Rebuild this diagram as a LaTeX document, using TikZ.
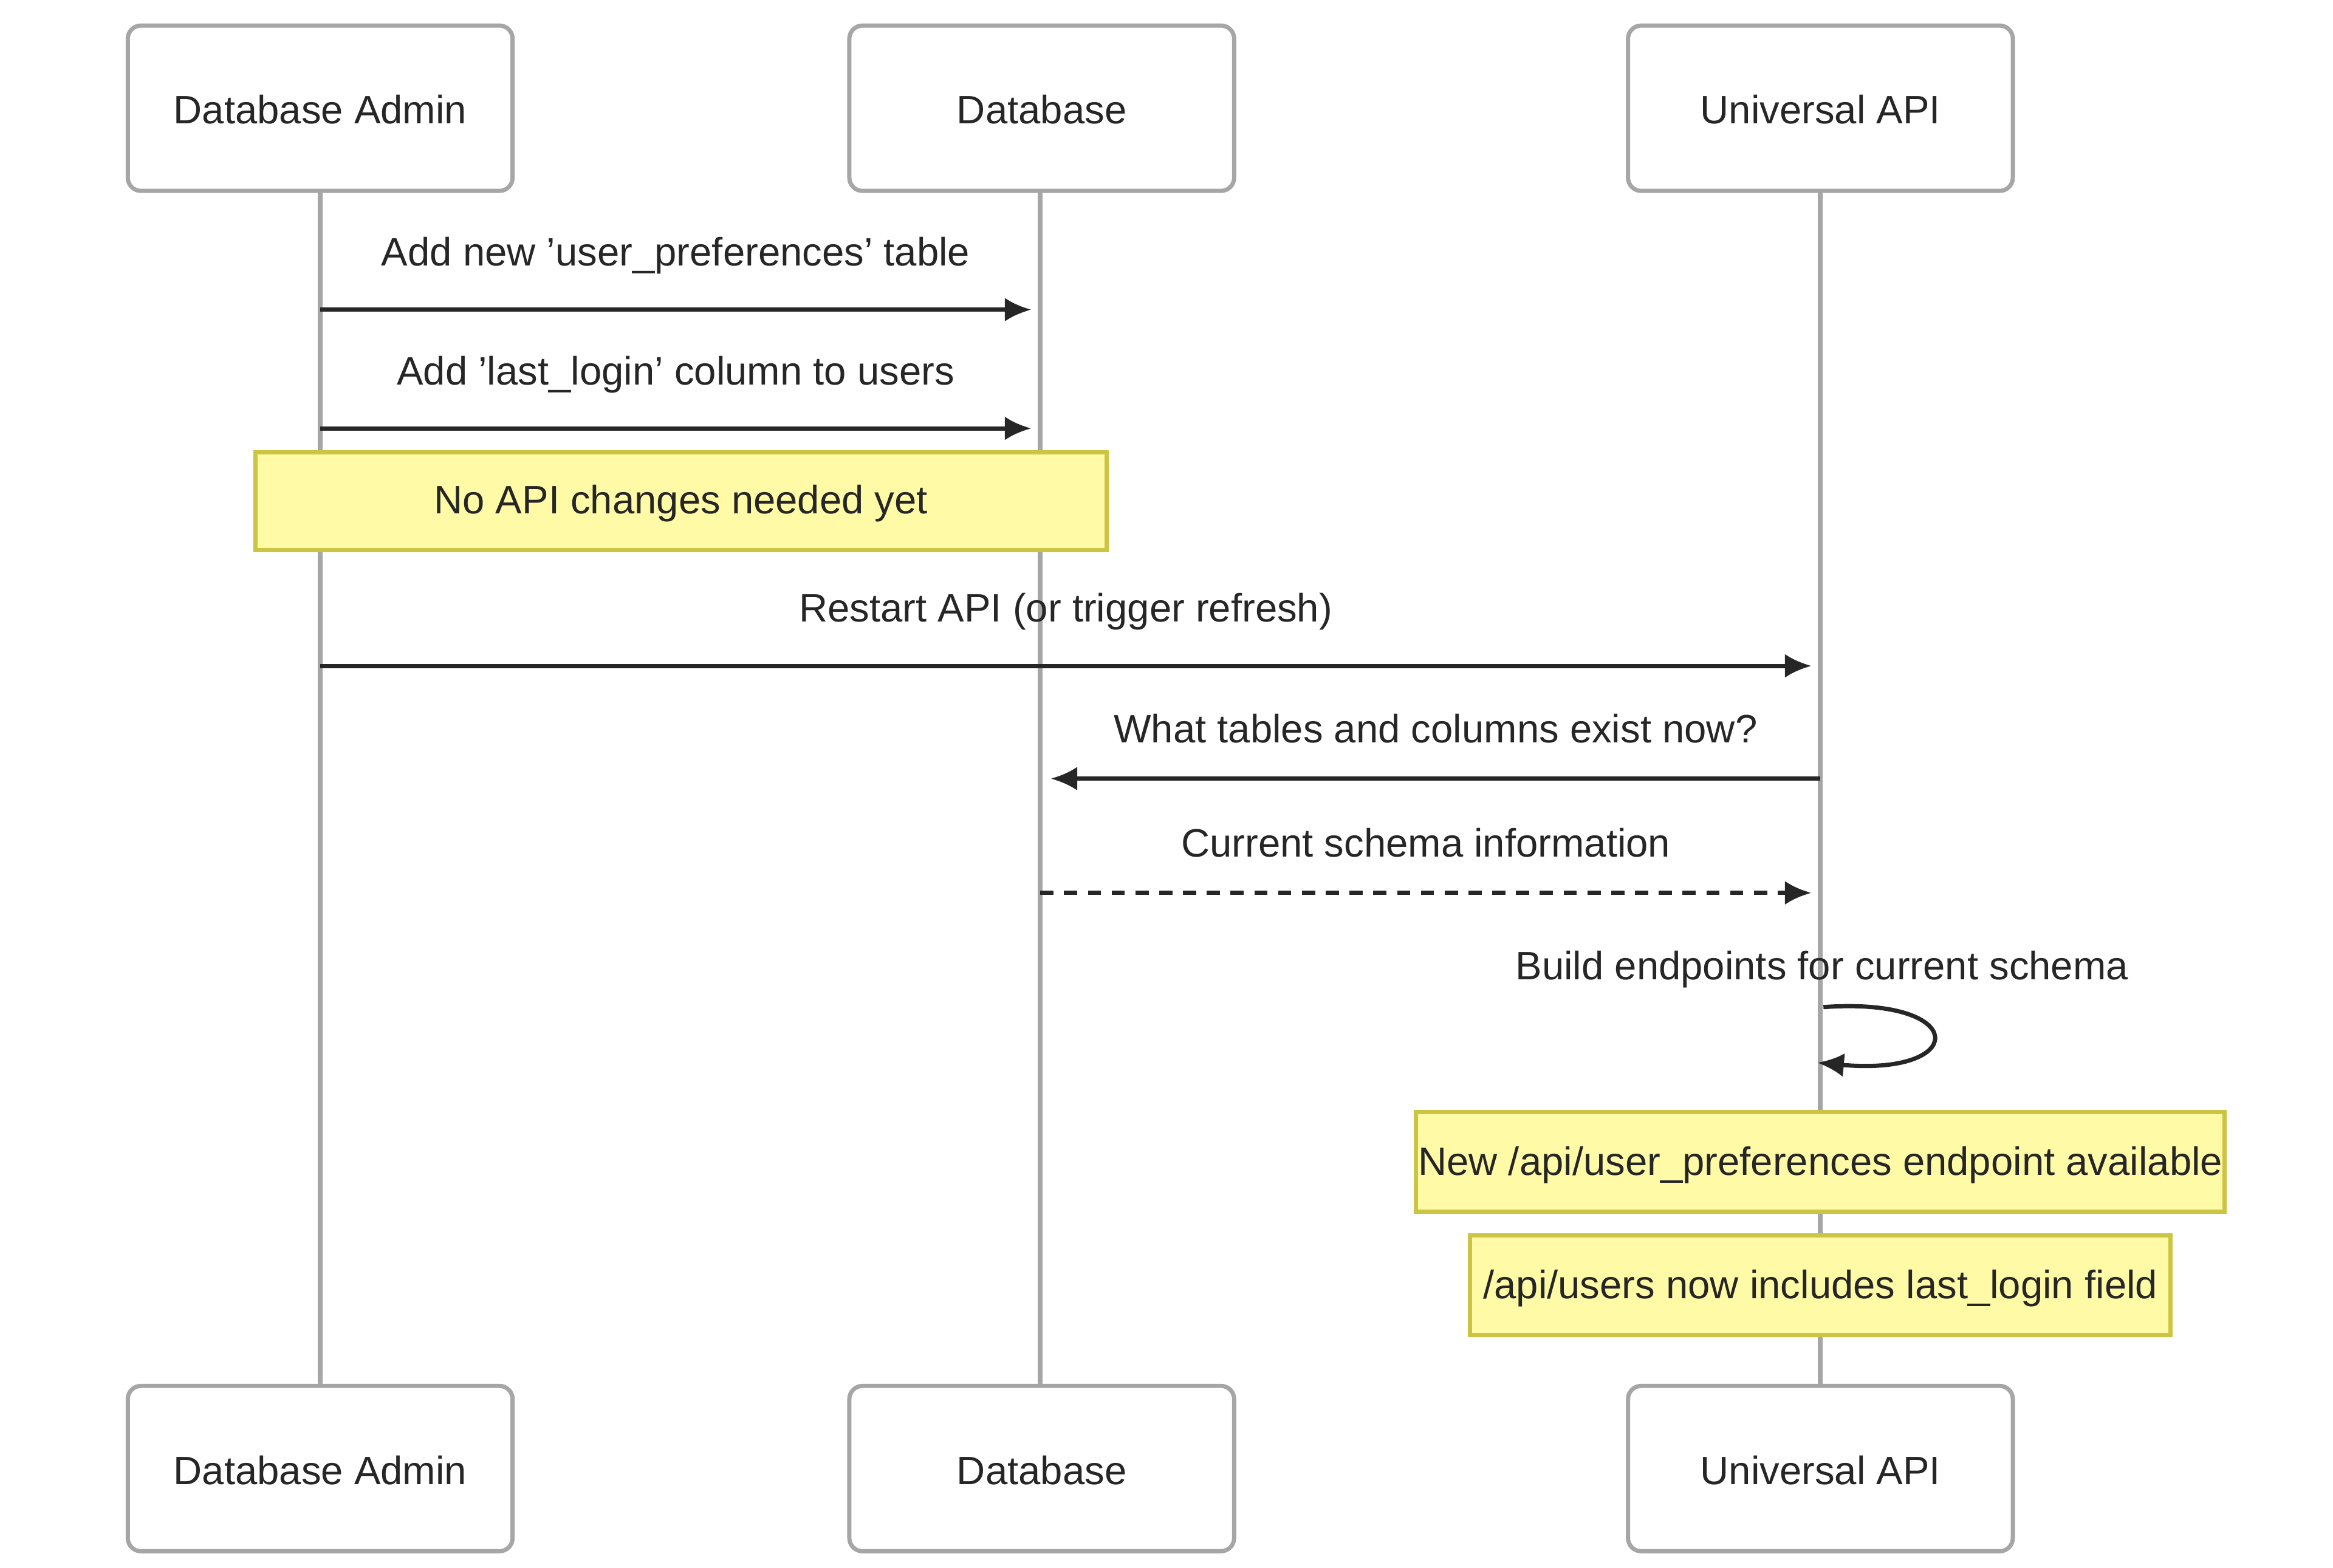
\documentclass[tikz,border=0pt]{standalone}
\usepackage{fontspec}
\setmainfont{Liberation Sans}
\usetikzlibrary{arrows.meta}
\begin{document}
\begin{tikzpicture}[x=0.01cm,y=-0.01cm,
 actor/.style={draw=black!35,line width=0.8pt,rounded corners=2pt,fill=white,minimum width=256\pgflinewidth/0.8*0.01cm/0.01cm},
 note/.style={draw=yellow!60!black!40!yellow!80!gray,fill=yellow!35,line width=0.8pt},
 life/.style={draw=black!35,line width=0.9pt},
 msg/.style={draw=black!85,line width=0.8pt,-{Latex[length=5pt,width=4.5pt]}},
 lbl/.style={font=\fontsize{7.5}{9}\selectfont,text=black!85}]
\useasboundingbox (0,0) rectangle (1552,1043);
\def\actorbox#1#2#3#4{\draw[draw=black!35,line width=0.8pt,rounded corners=2.5pt,fill=white] (#1,#2) rectangle (#1+256,#2+110);
 \node[lbl] (#4) at (#1+128,#2+56) {#3};}
\draw[life] (213,128) -- (213,922);
\draw[life] (692,128) -- (692,922);
\draw[life] (1211,128) -- (1211,922);
\actorbox{85}{17}{Database Admin}{a1}
\actorbox{565}{17}{Database}{a2}
\actorbox{1083}{17}{Universal API}{a3}
\actorbox{85}{922}{Database Admin}{b1}
\actorbox{565}{922}{Database}{b2}
\actorbox{1083}{922}{Universal API}{b3}
\coordinate (m1s) at (213,206); \coordinate (m1e) at (686,206);
\draw[msg] (m1s) -- (m1e) node[lbl,midway,above=3pt] {Add new 'user\_preferences' table};
\coordinate (m2s) at (213,285); \coordinate (m2e) at (686,285);
\draw[msg] (m2s) -- (m2e) node[lbl,midway,above=3pt] {Add 'last\_login' column to users};
\draw[note] (170,301) rectangle (736,366);
\node[lbl] (n1) at (453,335) {No API changes needed yet};
\coordinate (m3s) at (213,443); \coordinate (m3e) at (1205,443);
\draw[msg] (m3s) -- (m3e) node[lbl,midway,above=3pt] {Restart API (or trigger refresh)};
\coordinate (m4s) at (1211,518); \coordinate (m4e) at (699,518);
\draw[msg] (m4s) -- (m4e) node[lbl,midway,above=3pt] {What tables and columns exist now?};
\coordinate (m5s) at (692,594); \coordinate (m5e) at (1205,594);
\draw[msg,dash pattern=on 2.5pt off 2pt] (m5s) -- (m5e) node[lbl,midway,above=3pt] {Current schema information};
\node[lbl] (sl) at (1212,645) {Build endpoints for current schema};
\coordinate (ls) at (1213,670); \coordinate (le) at (1209,707);
\draw[msg] (ls) .. controls (1310,663) and (1310,716) .. (le);
\draw[note] (942,740) rectangle (1480,806);
\node[lbl] (n2) at (1211,775) {New /api/user\_preferences endpoint available};
\draw[note] (978,822) rectangle (1444,888);
\node[lbl] (n3) at (1211,857) {/api/users now includes last\_login field};
\end{tikzpicture}
\end{document}
